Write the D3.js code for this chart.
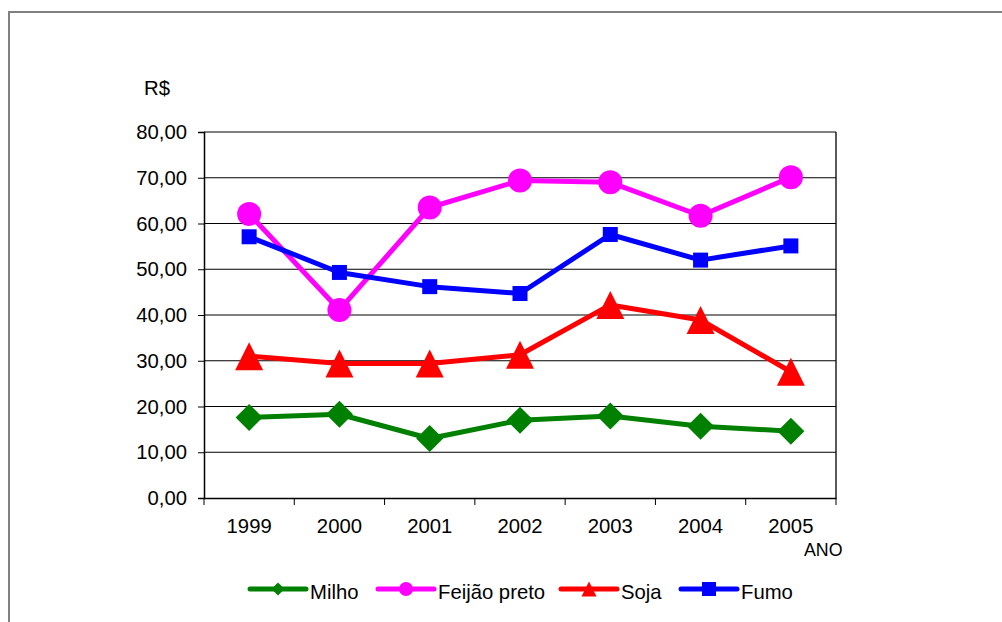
<!DOCTYPE html>
<html>
<head>
<meta charset="utf-8">
<script src="https://cdn.jsdelivr.net/npm/d3@7"></script>
<style>
  html, body { margin: 0; padding: 0; background: #fff; }
  svg { display: block; font-family: "Liberation Sans", Arial, sans-serif; }
</style>
</head>
<body>
<svg id="chart" width="1002" height="622"></svg>
<script>
// Preço médio recebido (R$) por produto, 1999–2005
const years = ["1999", "2000", "2001", "2002", "2003", "2004", "2005"];
const milho = [17.6, 18.3, 13.0, 17.0, 17.9, 15.7, 14.6];
const feijaoPreto = [62.1, 41.1, 63.5, 69.4, 69.0, 61.7, 70.1];
const soja = [31.0, 29.4, 29.4, 31.3, 42.2, 38.9, 27.6];
const fumo = [57.1, 49.3, 46.2, 44.7, 57.6, 52.0, 55.1];
const seriesNames = ["Milho", "Feijão preto", "Soja", "Fumo"];
const yTicks = [0, 10, 20, 30, 40, 50, 60, 70, 80];

const svg = d3.select("#chart");
const font = '"Liberation Sans", Arial, sans-serif';
const fs = 20.3;

// Outer chart frame (runs past the window edges on the right and bottom)
svg.append("rect")
  .attr("x", 9).attr("y", 12)
  .attr("width", 1100).attr("height", 700)
  .attr("fill", "#fff").attr("stroke", "#808080").attr("stroke-width", 2);

const plot = { left: 204, right: 836, top: 132, bottom: 498 };

const x = d3.scaleBand().domain(years).range([plot.left, plot.right]);
const y = d3.scaleLinear().domain([0, 80]).range([plot.bottom, plot.top]);

const br = d3.formatLocale({ decimal: ",", thousands: ".", grouping: [3], currency: ["R$", ""] });
const fmt = br.format(".2f");

// Horizontal gridlines
svg.append("g").selectAll("line")
  .data(yTicks.filter(d => d > 0))
  .join("line")
  .attr("x1", plot.left).attr("x2", plot.right)
  .attr("y1", d => y(d)).attr("y2", d => y(d))
  .attr("stroke", "#000").attr("stroke-width", 1);

// Plot area border (right side)
svg.append("line")
  .attr("x1", plot.right).attr("x2", plot.right)
  .attr("y1", plot.top).attr("y2", plot.bottom)
  .attr("stroke", "#000").attr("stroke-width", 1.3);

// Y axis
const yAxis = svg.append("g")
  .attr("transform", `translate(${plot.left},0)`)
  .call(d3.axisLeft(y).tickValues(yTicks).tickSize(6).tickPadding(11).tickFormat(fmt));
yAxis.select(".domain").attr("stroke", "#000").attr("stroke-width", 1.5);
yAxis.selectAll(".tick line").attr("stroke", "#000");
yAxis.selectAll(".tick text")
  .attr("font-family", font).attr("font-size", fs).attr("fill", "#000");

// X axis: labels centred in each band, tick marks on the band edges
const xAxis = svg.append("g")
  .attr("transform", `translate(0,${plot.bottom})`)
  .call(d3.axisBottom(x).tickSize(0).tickPadding(21));
xAxis.select(".domain").attr("stroke", "#000").attr("stroke-width", 1.5);
xAxis.selectAll(".tick text")
  .attr("font-family", font).attr("font-size", fs).attr("fill", "#000");
const edges = years.map(d => x(d)).concat([plot.right]);
svg.append("g").selectAll("line")
  .data(edges)
  .join("line")
  .attr("x1", d => d).attr("x2", d => d)
  .attr("y1", plot.bottom).attr("y2", plot.bottom + 7)
  .attr("stroke", "#000").attr("stroke-width", 1);

// Axis titles
svg.append("text").attr("x", 144).attr("y", 95)
  .attr("font-family", font).attr("font-size", fs).text("R$");
svg.append("text").attr("x", 804).attr("y", 556)
  .attr("font-family", font).attr("font-size", 17.8).text("ANO");

// Marker shapes, size = full width of the mark
const diamond = { draw(ctx, s) { const h = s / 2; ctx.moveTo(0, -h); ctx.lineTo(h, 0); ctx.lineTo(0, h); ctx.lineTo(-h, 0); ctx.closePath(); } };
const circle = { draw(ctx, s) { const r = s / 2; ctx.moveTo(r, 0); ctx.arc(0, 0, r, 0, 2 * Math.PI); ctx.closePath(); } };
const triangle = { draw(ctx, s) { const h = s / 2; ctx.moveTo(0, -h); ctx.lineTo(h, h); ctx.lineTo(-h, h); ctx.closePath(); } };
const square = { draw(ctx, s) { const h = s / 2; ctx.rect(-h, -h, s, s); } };

const series = [
  { name: seriesNames[0], values: milho, color: "#008000", shape: diamond, size: 27, legendSize: 13 },
  { name: seriesNames[1], values: feijaoPreto, color: "#FF00FF", shape: circle, size: 24, legendSize: 14 },
  { name: seriesNames[2], values: soja, color: "#FF0000", shape: triangle, size: 28, legendSize: 15 },
  { name: seriesNames[3], values: fumo, color: "#0000FF", shape: square, size: 15, legendSize: 14 }
];

const cx = d => x(d) + x.bandwidth() / 2;
const line = d3.line().x((d, i) => cx(years[i])).y(d => y(d));

series.forEach(s => {
  const g = svg.append("g");
  g.append("path")
    .attr("d", line(s.values))
    .attr("fill", "none").attr("stroke", s.color)
    .attr("stroke-width", 5).attr("stroke-linejoin", "round");
  g.selectAll("path.mk")
    .data(s.values)
    .join("path").attr("class", "mk")
    .attr("transform", (d, i) => `translate(${cx(years[i])},${y(d)})`)
    .attr("d", d3.symbol().type(s.shape).size(s.size))
    .attr("fill", s.color);
});

// Legend
const legendX = [250, 378, 561, 681];
const legendY = 589;
series.forEach((s, i) => {
  const g = svg.append("g").attr("transform", `translate(${legendX[i]},${legendY})`);
  g.append("line")
    .attr("x1", 0).attr("x2", 56).attr("y1", 0).attr("y2", 0)
    .attr("stroke", s.color).attr("stroke-width", 5).attr("stroke-linecap", "round");
  g.append("path")
    .attr("transform", "translate(28,0)")
    .attr("d", d3.symbol().type(s.shape).size(s.legendSize))
    .attr("fill", s.color);
  g.append("text")
    .attr("x", 60).attr("y", 9.5)
    .attr("font-family", font).attr("font-size", fs).attr("fill", "#000")
    .text(s.name);
});
</script>
</body>
</html>
